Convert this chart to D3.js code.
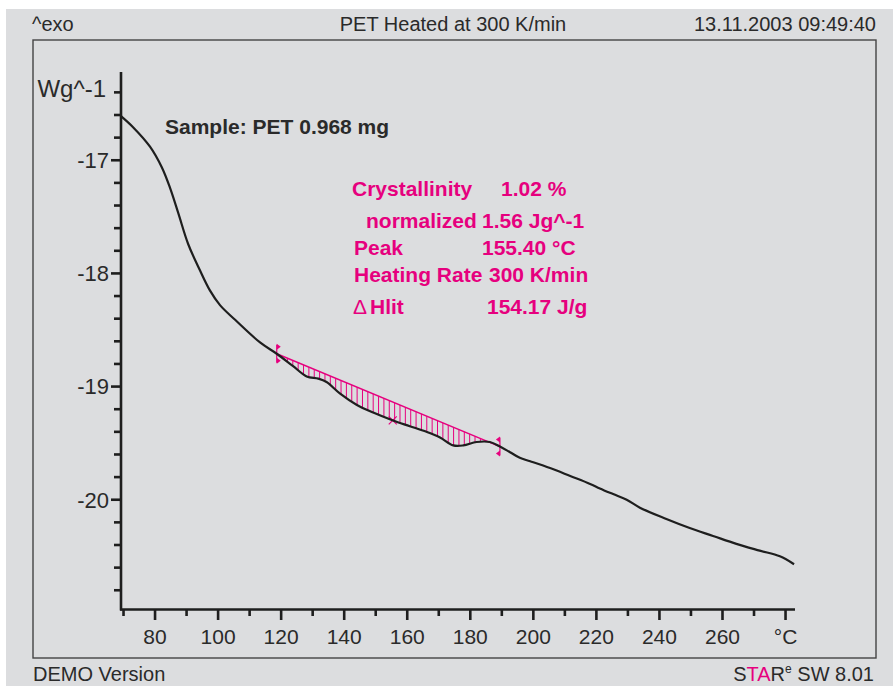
<!DOCTYPE html>
<html>
<head>
<meta charset="utf-8">
<script src="https://cdn.jsdelivr.net/npm/d3@7"></script>
<style>
	html, body { margin: 0; padding: 0; background: #ffffff; }
	svg { display: block; font-family: "Liberation Sans", Arial, sans-serif; }
</style>
</head>
<body>
<div id="chart"></div>
<script>
///////////////////////////////////////////////////////////////////////////
//////////////////////////// data /////////////////////////////////////////
///////////////////////////////////////////////////////////////////////////

// DSC curve (temperature in °C, heat flow in Wg^-1)
const temperature = [
	69.2, 73.1, 78.4, 82.1, 84.7, 87.4, 90.5, 94.2, 97.4, 100.6, 105.4, 113.3,
	118.6, 123.8, 128.1, 131.8, 134.4, 138.6, 143.9, 149.2, 155.5, 160.8, 166.1,
	170.4, 174.6, 177.8, 182.0, 186.2, 189.4, 192.6, 195.7, 199.0, 205.3, 211.7,
	218.0, 221.1, 225.3, 229.6, 233.8, 242.2, 249.6, 257.0, 264.4, 271.8, 278.2,
	282.7
];
const heatFlow = [
	-16.61, -16.71, -16.88, -17.06, -17.24, -17.47, -17.74, -17.97, -18.15, -18.28,
	-18.41, -18.61, -18.71, -18.82, -18.91, -18.93, -18.96, -19.06, -19.16, -19.23,
	-19.3, -19.35, -19.4, -19.45, -19.52, -19.52, -19.49, -19.49, -19.53, -19.58,
	-19.63, -19.66, -19.72, -19.79, -19.86, -19.9, -19.95, -20.0, -20.07, -20.17,
	-20.25, -20.32, -20.39, -20.45, -20.5, -20.57
];

// integration limits and peak
const limits = [118.6, 189.4];
const peakTemp = 155.4;

// ticks
const xTicks = d3.range(70, 281, 10);
const xLabels = [80, 100, 120, 140, 160, 180, 200, 220, 240, 260];
const yTicks = d3.range(-20.8, -16.3, 0.2).map((d) => +d.toFixed(1));
const yLabels = [-20, -19, -18, -17];

// texts
const headerTexts = ["^exo", "PET Heated at 300 K/min", "13.11.2003 09:49:40"];
const resultLabels = ["Crystallinity", "normalized", "Peak", "Heating Rate", "\u0394", "Hlit"];
const resultValues = ["1.02 %", "1.56 Jg^-1", "155.40 °C", "300 K/min", "154.17 J/g"];

const data = temperature.map((t, i) => ({ t: t, v: heatFlow[i] }));

//////////////////////////// accessors ////////////////////////////////////

const xAccessor = (d) => d.t;
const yAccessor = (d) => d.v;

///////////////////////////////////////////////////////////////////////////
//////////////////////////// drawing //////////////////////////////////////
///////////////////////////////////////////////////////////////////////////

const width = 893;
const height = 686;
const pink = "#e6007e";
const ink = "#1e1e1e";
const textInk = "#2a2a2a";

const svg = d3
	.select("#chart")
	.append("svg")
	.attr("width", width)
	.attr("height", height);

// grey page + frame
svg.append("rect").attr("x", 6).attr("y", 9).attr("width", width - 6).attr("height", height - 9).attr("fill", "#dcdddf");
svg
	.append("rect")
	.attr("x", 33)
	.attr("y", 40)
	.attr("width", 843)
	.attr("height", 618)
	.attr("fill", "none")
	.attr("stroke", "#444")
	.attr("stroke-width", 1.4);

//////////////////////////// header / footer //////////////////////////////

const header = svg.append("g").style("font-size", "20px").attr("fill", textInk);
header.append("text").attr("x", 32).attr("y", 31).text(headerTexts[0]);
header.append("text").attr("x", 453).attr("y", 31).attr("text-anchor", "middle").text(headerTexts[1]);
header.append("text").attr("x", 876).attr("y", 31).attr("text-anchor", "end").text(headerTexts[2]);

const footer = svg.append("g").style("font-size", "20px").attr("fill", textInk);
footer.append("text").attr("x", 33).attr("y", 681).text("DEMO Version");
const star = footer.append("text").attr("x", 874).attr("y", 681).attr("text-anchor", "end");
star.append("tspan").text("S");
star.append("tspan").attr("fill", pink).text("TA");
star.append("tspan").text("R");
star.append("tspan").attr("dy", -8).style("font-size", "12px").text("e");
star.append("tspan").attr("dy", 8).text(" SW 8.01");

//////////////////////////// scales ///////////////////////////////////////

const xScale = d3.scaleLinear().domain([69.2, 283]).range([121, 795]);
const yScale = d3.scaleLinear().domain([-20.97, -16.22]).range([609.5, 72]);

//////////////////////////// axes /////////////////////////////////////////

const axes = svg.append("g").attr("stroke", ink).attr("stroke-width", 2.6);

axes.append("line").attr("x1", 121).attr("x2", 121).attr("y1", yScale.range()[1]).attr("y2", yScale.range()[0] + 1);
axes.append("line").attr("x1", 120).attr("x2", xScale.range()[1]).attr("y1", yScale.range()[0]).attr("y2", yScale.range()[0]);

axes
	.selectAll(".ytick")
	.data(yTicks)
	.join("line")
	.attr("class", "ytick")
	.attr("x1", (d) => (yLabels.includes(d) ? 111 : 114))
	.attr("x2", 121)
	.attr("y1", (d) => yScale(d))
	.attr("y2", (d) => yScale(d));

axes
	.selectAll(".xtick")
	.data(xTicks)
	.join("line")
	.attr("class", "xtick")
	.attr("x1", (d) => xScale(d))
	.attr("x2", (d) => xScale(d))
	.attr("y1", yScale.range()[0])
	.attr("y2", (d) => (d % 20 === 0 ? 620 : 616));

const labels = svg.append("g").style("font-size", "21px").attr("fill", textInk);

labels
	.selectAll(".ylabel")
	.data(yLabels)
	.join("text")
	.attr("x", 109)
	.attr("y", (d) => yScale(d))
	.attr("dy", "0.36em")
	.attr("text-anchor", "end")
	.style("font-size", "22px")
	.text((d) => d);

labels
	.selectAll(".xlabel")
	.data(xLabels)
	.join("text")
	.attr("x", (d) => xScale(d))
	.attr("y", 644)
	.attr("text-anchor", "middle")
	.text((d) => d);

labels.append("text").attr("x", xScale(280)).attr("y", 644).attr("text-anchor", "middle").text("°C");
labels.append("text").attr("x", 106).attr("y", 97).attr("text-anchor", "end").style("font-size", "24px").text("Wg^-1");

//////////////////////////// integration //////////////////////////////////

const valueAt = (t) => {
	const i = d3.bisector(xAccessor).right(data, t);
	const a = data[Math.max(0, i - 1)];
	const b = data[Math.min(data.length - 1, i)];
	if (a === b) return a.v;
	return a.v + ((b.v - a.v) * (t - a.t)) / (b.t - a.t);
};

const v1 = valueAt(limits[0]);
const v2 = valueAt(limits[1]);
const baseAt = (t) => v1 + ((v2 - v1) * (t - limits[0])) / (limits[1] - limits[0]);

const hatch = d3.range(limits[0] + 1.7, limits[1], 1.7).filter((t) => baseAt(t) > valueAt(t));

const integ = svg.append("g").attr("stroke", pink);

integ
	.selectAll(".hatch")
	.data(hatch)
	.join("line")
	.attr("x1", (d) => xScale(d))
	.attr("x2", (d) => xScale(d))
	.attr("y1", (d) => yScale(baseAt(d)))
	.attr("y2", (d) => yScale(valueAt(d)))
	.attr("stroke-width", 1);

integ
	.append("line")
	.attr("x1", xScale(limits[0]))
	.attr("y1", yScale(v1))
	.attr("x2", xScale(limits[1]))
	.attr("y2", yScale(v2))
	.attr("stroke-width", 1.4);

// limit markers
limits.forEach((t, i) => {
	const x = xScale(t);
	const y = yScale(valueAt(t));
	const dir = i === 0 ? 1 : -1;
	integ.append("line").attr("x1", x).attr("x2", x).attr("y1", y - 9).attr("y2", y + 9).attr("stroke-width", 1.2);
	[-7, 7].forEach((off) => {
		integ
			.append("path")
			.attr("d", `M${x},${y + off - 3}L${x + dir * 4},${y + off}L${x},${y + off + 3}Z`)
			.attr("fill", pink)
			.attr("stroke", "none");
	});
});

// peak cross
const px = xScale(peakTemp);
const py = yScale(valueAt(peakTemp));
integ
	.append("path")
	.attr("d", `M${px - 4},${py - 4}L${px + 4},${py + 4}M${px - 4},${py + 4}L${px + 4},${py - 4}`)
	.attr("stroke-width", 1.2);

//////////////////////////// curve ////////////////////////////////////////

const line = d3
	.line()
	.x((d) => xScale(xAccessor(d)))
	.y((d) => yScale(yAccessor(d)))
	.curve(d3.curveCatmullRom.alpha(0.5));

svg
	.append("path")
	.datum(data)
	.attr("d", line)
	.attr("fill", "none")
	.attr("stroke", ink)
	.attr("stroke-width", 2.2)
	.attr("stroke-linejoin", "round");

//////////////////////////// annotations //////////////////////////////////

svg
	.append("text")
	.attr("x", 165)
	.attr("y", 134)
	.style("font-size", "21px")
	.style("font-weight", "bold")
	.attr("fill", textInk)
	.text("Sample: PET 0.968 mg");

const res = svg.append("g").style("font-size", "21px").style("font-weight", "bold").attr("fill", pink);
const rows = [
	{ label: resultLabels[0], lx: 352, value: resultValues[0], vx: 501, y: 196 },
	{ label: resultLabels[1], lx: 366, value: resultValues[1], vx: 482, y: 228 },
	{ label: resultLabels[2], lx: 354, value: resultValues[2], vx: 482, y: 255 },
	{ label: resultLabels[3], lx: 354, value: resultValues[3], vx: 489, y: 282 },
	{ label: resultLabels[5], lx: 370, value: resultValues[4], vx: 487, y: 314 }
];
rows.forEach((r) => {
	res.append("text").attr("x", r.lx).attr("y", r.y).text(r.label);
	res.append("text").attr("x", r.vx).attr("y", r.y).text(r.value);
});
res.append("text").attr("x", 353).attr("y", 314).style("font-weight", "normal").text(resultLabels[4]);
</script>
</body>
</html>
